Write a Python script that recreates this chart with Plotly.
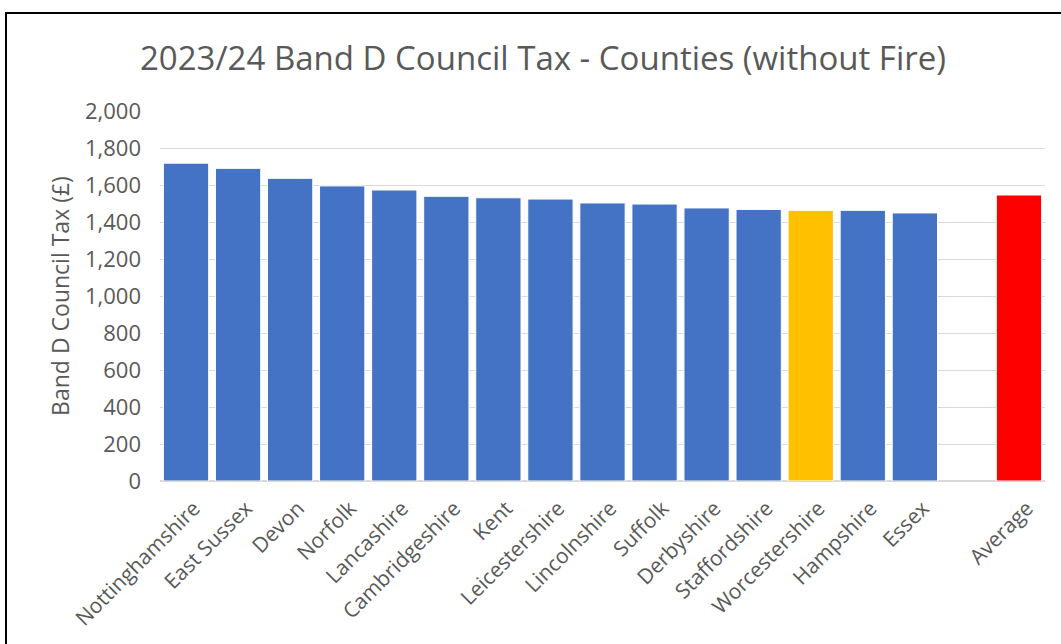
import plotly.graph_objects as go

categories = ["Nottinghamshire", "East Sussex", "Devon", "Norfolk", "Lancashire",
              "Cambridgeshire", "Kent", "Leicestershire", "Lincolnshire", "Suffolk",
              "Derbyshire", "Staffordshire", "Worcestershire", "Hampshire", "Essex",
              " ", "Average"]
values = [1718, 1690, 1636, 1595, 1573, 1539, 1531, 1524, 1503, 1497,
          1476, 1468, 1463, 1463, 1449, None, 1546]
colors = ["#4472C4"] * 12 + ["#FFC000", "#4472C4", "#4472C4", "#4472C4", "#FF0000"]

W, H = 1061, 644
ml, mr, mt, mb = 160, 16, 111, 163
pw, ph = W - ml - mr, H - mt - mb

fig = go.Figure(go.Bar(
    x=categories, y=values,
    marker=dict(color=colors, line=dict(color="white", width=1)),
))

def px_x(p):
    return (p - ml) / pw

def px_y(p):
    return (H - mb - p) / ph

fig.update_layout(
    width=W, height=H,
    margin=dict(l=ml, r=mr, t=mt, b=mb),
    paper_bgcolor="white", plot_bgcolor="white",
    font=dict(family="'Open Sans', sans-serif", color="#595959"),
    title=dict(text="2023/24 Band D Council Tax - Counties (without Fire)",
               x=(543) / W, xanchor="center", y=1 - 58 / H, yanchor="middle",
               font=dict(size=33, color="#595959")),
    bargap=0.13,
    showlegend=False,
    xaxis=dict(type="category", tickangle=-45, tickfont=dict(size=21, color="#595959"),
               showgrid=False, showline=False, ticks="",
               ticklabelstandoff=10, ticklabelshift=8),
    yaxis=dict(range=[0, 2000], dtick=200, tickformat=",", showgrid=True,
               gridcolor="#D9D9D9", gridwidth=1, zeroline=True, zerolinecolor="#D9D9D9",
               tickfont=dict(size=22, color="#595959"), ticklabelstandoff=18,
               title=dict(text="Band D Council Tax (£)", font=dict(size=23, color="#595959"),
                          standoff=8)),
    shapes=[dict(type="rect", xref="paper", yref="paper",
                 x0=px_x(6), x1=px_x(1070), y0=px_y(660), y1=px_y(13),
                 line=dict(color="black", width=2), fillcolor="rgba(0,0,0,0)")],
)

fig.write_html("out.html")
